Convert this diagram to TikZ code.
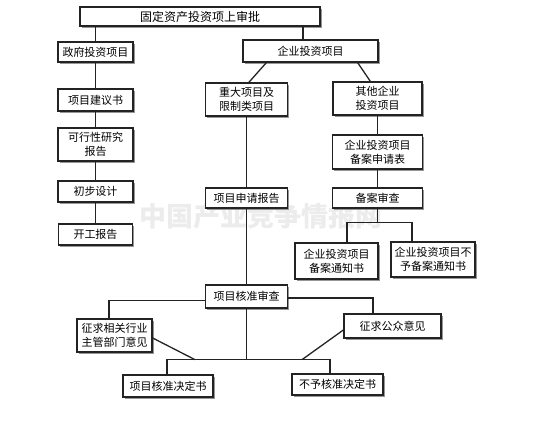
\documentclass[tikz,border=0pt]{standalone}
\usepackage{fontspec}
\setmainfont{Noto Sans CJK SC}
\usepackage{tikz}
\usetikzlibrary{calc, shadows}
\definecolor{mydark}{RGB}{35,35,35}
\definecolor{myshade}{RGB}{150,150,150}
\definecolor{mymark}{RGB}{236,236,236}
\tikzset{
  box/.style={rectangle, draw=mydark, fill=white, line width=1.3pt,
    inner sep=1pt, align=center, font=\fontsize{11}{14}\selectfont,
    general shadow={fill=myshade, shadow xshift=1.6pt, shadow yshift=-1.6pt}},
  link/.style={line width=1.3pt, draw=mydark},
  wmark/.style={font=\fontsize{27}{30}\selectfont\bfseries, text=mymark}
}
\begin{document}
\begin{tikzpicture}[x=1pt, y=-1pt]
  \useasboundingbox (0,0) rectangle (555,431);
  \node[wmark] (wm) at (261,216) {中国产业竞争情报网};
  % left column
  \node[box, minimum width=240, minimum height=19, font=\fontsize{12}{14}\selectfont] (top) at (200,16.5) {固定资产投资项上审批};
  \node[box, minimum width=75, minimum height=20] (gov) at (95.5,52) {政府投资项目};
  \node[box, minimum width=75, minimum height=22] (prop) at (95.5,100) {项目建议书};
  \node[box, minimum width=75, minimum height=33] (feas) at (95.5,144.5) {可行性研究\\报告};
  \node[box, minimum width=75, minimum height=21] (design) at (95.5,191.5) {初步设计};
  \node[box, minimum width=74, minimum height=21] (start) at (95.5,234.5) {开工报告};
  % enterprise side
  \node[box, minimum width=135, minimum height=22] (ent) at (310.5,51) {企业投资项目};
  \node[box, minimum width=82, minimum height=33] (major) at (246.5,99.5) {重大项目及\\限制类项目};
  \node[box, minimum width=89, minimum height=33] (other) at (377.5,98.5) {其他企业\\投资项目};
  \node[box, minimum width=90, minimum height=34] (form) at (377.5,152) {企业投资项目\\备案申请表};
  \node[box, minimum width=82, minimum height=20] (appl) at (246.5,198) {项目申请报告};
  \node[box, minimum width=90, minimum height=20] (rev) at (377.5,198) {备案审查};
  \node[box, minimum width=83, minimum height=36] (recok) at (336.5,261) {企业投资项目\\备案通知书};
  \node[box, minimum width=84, minimum height=35] (recno) at (433,259.5) {企业投资项目不\\予备案通知书};
  % approval
  \node[box, minimum width=82, minimum height=23] (check) at (246.5,296.5) {项目核准审查};
  \node[box, minimum width=75, minimum height=33] (dept) at (114.5,335.5) {征求相关行业\\主管部门意见};
  \node[box, minimum width=97, minimum height=24] (pub) at (392.5,326) {征求公众意见};
  \node[box, minimum width=90, minimum height=22] (okdec) at (168,386) {项目核准决定书};
  \node[box, minimum width=91, minimum height=21] (nodec) at (337.5,384.5) {不予核准决定书};

  \draw[link] (gov.north) -- (gov.north |- top.south);
  \coordinate (entin) at ($(ent.north)+(-7.5,0)$);
  \draw[link] (entin) -- (entin |- top.south);
  \foreach \a/\b in {gov/prop, prop/feas, feas/design, design/start,
                     major/appl, appl/check, other/form, form/rev}
    \draw[link] (\a.south) -- (\b.north);
  \draw[link] ($(ent.south west)+(24,0)$) -- ($(major.north west)+(44,0)$);
  \draw[link] ($(ent.south east)+(-21,0)$) -- ($(other.north west)+(38,0)$);
  % filing result
  \draw[link] (rev.south) -- ++(0,14) coordinate (rj);
  \draw[link] ($(recok.north)+(10.5,0)$) |- (rj) -| ($(recno.north)+(-21,0)$);
  % opinions and decisions
  \draw[link] ($(check.west)+(0,4)$) -| ($(dept.north)+(-5.5,0)$);
  \draw[link] ($(check.east)+(0,1.5)$) -| ($(pub.north)+(-19.5,0)$);
  \draw[link] (check.south) -- ++(0,51) coordinate (hj);
  \draw[link] ($(okdec.north)+(-1,0)$) |- (hj) -| ($(nodec.north)+(-7.5,0)$);
  \draw[link] ($(dept.east)+(0,2.5)$) -- ($(hj)+(-51.5,0)$);
  \draw[link] ($(pub.west)+(0,4)$) -- ($(hj)+(55.5,0)$);
\end{tikzpicture}
\end{document}
